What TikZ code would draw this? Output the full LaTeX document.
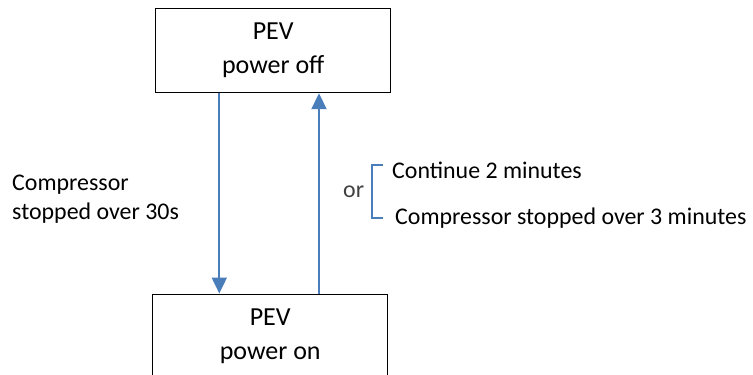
\documentclass[tikz,border=0pt]{standalone}
\usepackage{fontspec}
\setmainfont{Carlito}
\usetikzlibrary{arrows.meta}
\definecolor{arrblue}{HTML}{4A7EBB}
\definecolor{txtgrey}{HTML}{404040}
\begin{document}
\begin{tikzpicture}[x=1pt,y=-1pt,
  statebox/.style={draw=black, line width=1pt, fill=white, minimum width=235pt, minimum height=84pt, inner sep=0pt, align=center, font=\fontsize{26}{34}\selectfont},
  lbl/.style={inner sep=0pt, align=left, font=\fontsize{23.9}{29}\selectfont},
  arr/.style={draw=arrblue, line width=2pt, -{Triangle[width=15pt,length=16pt]}},
  brk/.style={draw=arrblue, line width=2pt}]
\useasboundingbox (0,0) rectangle (753,375);
\clip (0,0) rectangle (753,375);
\node[statebox] (off) at (273.2,50.7) {PEV\\power off};
\node[statebox] (on) at (270.2,336) {PEV\\power on};
\coordinate (xa) at (219.3,0);
\coordinate (xb) at (319,0);
\draw[arr] (xa |- off.south) -- (xa |- on.north);
\draw[arr] (xb |- on.north) -- (xb |- off.south);
\node[lbl, anchor=west] (comp) at (12,199) {Compressor\\stopped over 30s};
\node[lbl, anchor=west, text=txtgrey] (or) at (343,192) {or};
\node[lbl, anchor=west] (c2) at (392,170) {Continue 2 minutes};
\node[lbl, anchor=west] (c3) at (395,218) {Compressor stopped over 3 minutes};
\draw[brk] (382.7,165) -- (371.7,165) -- (371.7,218) -- (382.7,218);
\end{tikzpicture}
\end{document}
